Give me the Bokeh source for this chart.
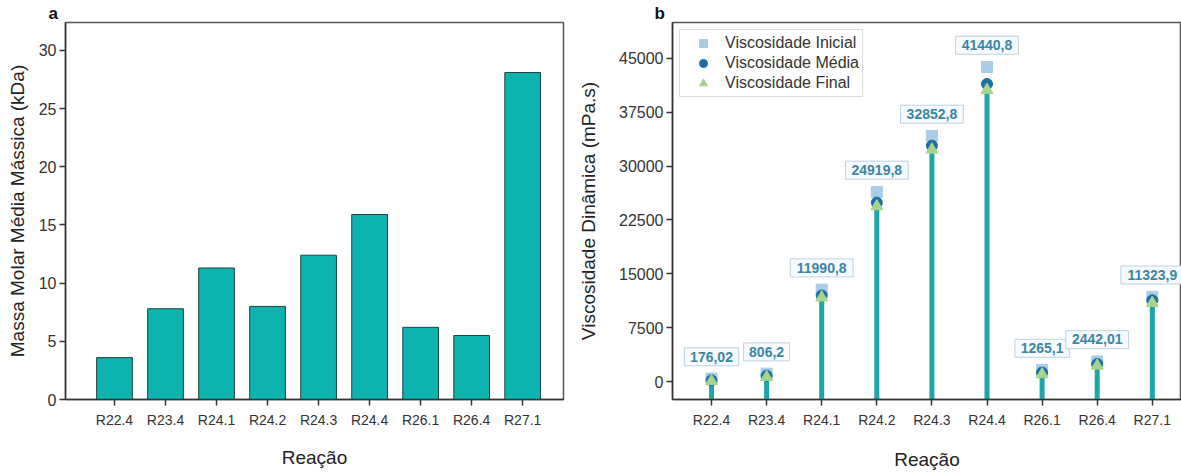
from bokeh.plotting import figure
from bokeh.layouts import row
from bokeh.models import ColumnDataSource, FixedTicker, LabelSet, Range1d
from bokeh.core.properties import value
from bokeh.transform import dodge
from bokeh.embed import file_html
from bokeh.resources import INLINE

# ---------------- data ----------------
categories = ["R22.4", "R23.4", "R24.1", "R24.2", "R24.3", "R24.4", "R26.1", "R26.4", "R27.1"]
massa_kda = [3.6, 7.8, 11.3, 8.0, 12.4, 15.9, 6.2, 5.5, 28.1]

visc_inicial = [420, 1100, 12800, 26400, 34200, 43800, 1600, 2800, 11800]
visc_media = [176.02, 806.2, 11990.8, 24919.8, 32852.8, 41440.8, 1265.1, 2442.01, 11323.9]
visc_final = [60, 620, 11700, 24400, 32300, 40600, 1000, 2200, 10950]
media_labels = ["176,02", "806,2", "11990,8", "24919,8", "32852,8", "41440,8", "1265,1", "2442,01", "11323,9"]

massa_ticks = [0, 5, 10, 15, 20, 25, 30]
visc_ticks = [0, 7500, 15000, 22500, 30000, 37500, 45000]

FONT = "Liberation Sans"
DARK = "#333333"

x = list(range(1, len(categories) + 1))
overrides = {i: c for i, c in zip(x, categories)}


def style(p, ylabel, yticks, panel, title_offset):
    p.xgrid.visible = False
    p.ygrid.visible = False
    p.outline_line_color = "#555555"
    p.outline_line_width = 1.5
    p.background_fill_color = "white"
    p.border_fill_color = "white"
    for ax in (p.xaxis[0], p.yaxis[0]):
        ax.axis_line_color = DARK
        ax.axis_line_width = 1.5
        ax.major_tick_line_color = DARK
        ax.major_tick_line_width = 1.5
        ax.major_tick_out = 6
        ax.major_tick_in = 0
        ax.minor_tick_line_color = None
        ax.major_label_text_font = FONT
        ax.major_label_text_color = DARK
        ax.axis_label_text_font = FONT
        ax.axis_label_text_font_style = "normal"
        ax.axis_label_text_color = "#222222"
        ax.axis_label_text_font_size = "19px"
    p.xaxis[0].ticker = FixedTicker(ticks=x)
    p.xaxis[0].major_label_overrides = overrides
    p.xaxis[0].major_label_text_font_size = "14px"
    p.xaxis[0].major_label_standoff = 6
    p.xaxis[0].axis_label = "Reação"
    p.yaxis[0].ticker = FixedTicker(ticks=yticks)
    p.yaxis[0].major_label_text_font_size = "16px"
    p.yaxis[0].major_label_standoff = 3
    p.yaxis[0].axis_label = ylabel
    p.title.text = panel
    p.title.align = "left"
    p.title.offset = title_offset
    p.title.standoff = 0
    p.title.text_font = FONT
    p.title.text_font_size = "17px"
    p.title.text_font_style = "bold"
    p.title.text_color = "#111111"


# ---------------- panel a ----------------
p1 = figure(width=575, height=472, x_range=Range1d(0.04, 9.80), y_range=Range1d(0, 32.4),
            output_backend="svg", toolbar_location=None,
            min_border_left=65, min_border_right=12, min_border_top=19, min_border_bottom=59)
src1 = ColumnDataSource(dict(x=x, massa=massa_kda))
p1.vbar(x="x", top="massa", width=0.7, bottom=0, source=src1,
        fill_color="#0db3ae", line_color="#1c4443", line_width=1)
style(p1, "Massa Molar Média Mássica (kDa)", massa_ticks, "a", -17)
p1.xaxis[0].axis_label_standoff = 16
p1.yaxis[0].axis_label_standoff = 8

# ---------------- panel b ----------------
ymin = -2500
ymax = 50000
frame_h = 472 - 22 - 69
label_px = 22                                  # label box sits 22 px above the initial marker
label_shift = label_px * (ymax - ymin) / frame_h

p2 = figure(width=606, height=472, x_range=Range1d(0.292, 9.53), y_range=Range1d(ymin, ymax),
            output_backend="svg", toolbar_location=None,
            min_border_left=97, min_border_right=0, min_border_top=22, min_border_bottom=69)
src2 = ColumnDataSource(dict(x=x, inicial=visc_inicial, media=visc_media,
                             final=visc_final, label=media_labels,
                             box_w=[8.4 * len(s) + 4 for s in media_labels]))
p2.segment(x0="x", y0=ymin, x1="x", y1="media", source=src2,
           line_color="#1ba6aa", line_width=5)
p2.scatter(x="x", y="inicial", source=src2, marker="square", size=11,
           fill_color="#a9cde6", line_color="#a9cde6", legend_label="Viscosidade Inicial")
p2.scatter(x="x", y="media", source=src2, marker="circle", size=11,
           fill_color="#1d6ea8", line_color="#1d6ea8", legend_label="Viscosidade Média")
p2.scatter(x="x", y="final", source=src2, marker="triangle", size=12,
           fill_color="#a6d58c", line_color="#a6d58c", legend_label="Viscosidade Final")
p2.rect(x="x", y=dodge("inicial", label_shift), width="box_w", height=18,
        width_units="screen", height_units="screen", source=src2,
        fill_color="#f7fbfd", line_color="#bcd3df", line_width=1)
p2.add_layout(LabelSet(x="x", y="inicial", text="label", source=src2,
                       text_align="center", text_baseline="middle", y_offset=label_px,
                       text_font=value(FONT), text_font_style="bold", text_font_size="14px",
                       text_color="#3a86a6"))
style(p2, "Viscosidade Dinâmica (mPa.s)", visc_ticks, "b", -18)
p2.xaxis[0].axis_label_standoff = 18
p2.yaxis[0].axis_label_standoff = 17

lg = p2.legend[0]
lg.location = "top_left"
lg.margin = 7
lg.padding = 3
lg.spacing = 0
lg.glyph_width = 40
lg.glyph_height = 20
lg.label_height = 20
lg.label_standoff = 2
lg.label_text_font = FONT
lg.label_text_font_size = "16px"
lg.label_text_color = DARK
lg.border_line_color = "#bbbbbb"
lg.border_line_width = 1
lg.background_fill_color = "white"

layout = row(p1, p2)
open("out.html", "w").write(file_html(layout, INLINE))
